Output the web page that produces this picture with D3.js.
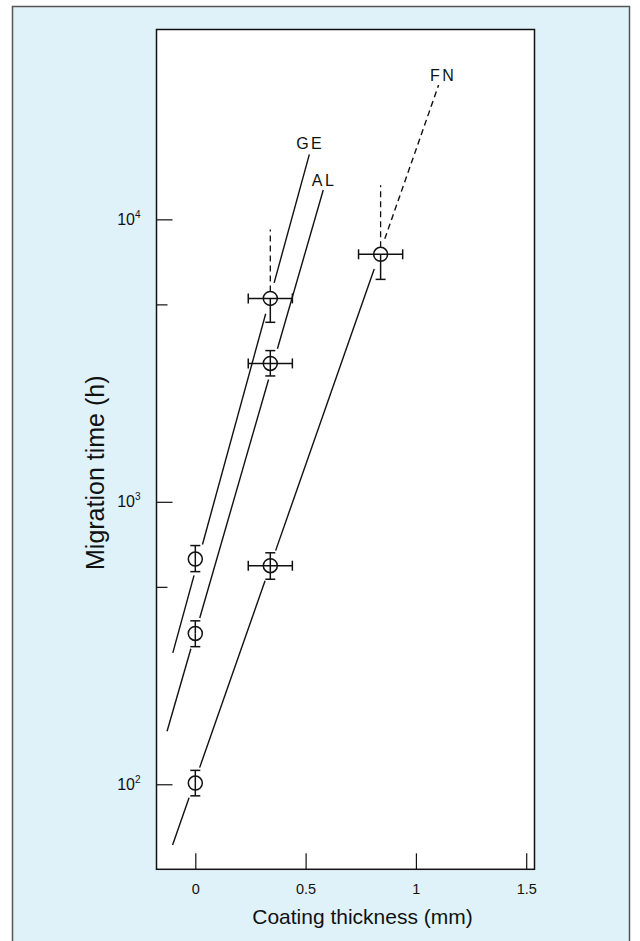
<!DOCTYPE html>
<html>
<head>
<meta charset="utf-8">
<script src="https://cdn.jsdelivr.net/npm/d3@7"></script>
<style>
    body { margin: 0; background: #fff; }
    svg text { font-family: "Liberation Sans", Arial, Helvetica, sans-serif; fill: #111; }
</style>
</head>
<body>
<div id="chart"></div>
<script>
// measured points (thickness in mm, migration time in h)
const geThickness = [0, 0.34];
const geTime = [627, 5250];
const geLow = [566, 4320];
const geHigh = [700, 9200];
const geOpen = [false, true];
const geXErr = [0, 0.1];

const alThickness = [0, 0.34];
const alTime = [342, 3090];
const alLow = [307, 2790];
const alHigh = [379, 3430];
const alOpen = [false, false];
const alXErr = [0, 0.1];

const fnThickness = [0, 0.34, 0.84];
const fnTime = [101, 594, 7520];
const fnLow = [91, 532, 6130];
const fnHigh = [112, 660, 13200];
const fnOpen = [false, false, true];
const fnXErr = [0, 0.1, 0.1];

// fitted lines (vertices); FN turns dashed after the 0.84 mm point
const geLineX = [-0.102, 0.517];
const geLineY = [292, 16990];
const alLineX = [-0.128, 0.580];
const alLineY = [154, 12700];
const fnLineX = [-0.103, 0.84, 1.103];
const fnLineY = [61, 7740, 29900];

const seriesNames = ["GE", "AL", "FN"];
const labelX = [0.514, 0.577, 1.117];
const labelY = [18600, 13800, 32400];

const xTicks = [0, 0.5, 1, 1.5];
const yMajor = [100, 1000, 10000];
const yMinor = [500, 5000];

const width = 640, height = 941;
const plot = {left: 156.5, right: 534.5, top: 29.5, bottom: 869.3};

const svg = d3.select("#chart").append("svg")
    .attr("width", width)
    .attr("height", height);

// light blue panel
svg.append("rect")
    .attr("x", 12.5).attr("y", 6.5)
    .attr("width", 617).attr("height", 960)
    .attr("fill", "#dff2fa")
    .attr("stroke", "#555")
    .attr("stroke-width", 1.5);

svg.append("rect")
    .attr("x", plot.left).attr("y", plot.top)
    .attr("width", plot.right - plot.left)
    .attr("height", plot.bottom - plot.top)
    .attr("fill", "#fff");

const x = d3.scaleLinear()
    .domain([-0.1759, 1.5376])
    .range([plot.left, plot.right]);

const y = d3.scaleLog()
    .domain([50, 47000])
    .range([plot.bottom, plot.top]);

// axes, ticks pointing inwards
const xAxisG = svg.append("g")
    .attr("transform", "translate(0," + plot.bottom + ")")
    .call(d3.axisBottom(x).tickValues(xTicks).tickSize(-16).tickPadding(14)
        .tickFormat(d => d === 0 ? "0" : d3.format("~g")(d)));
xAxisG.select(".domain").remove();
xAxisG.selectAll("line").attr("stroke", "#111").attr("stroke-width", 1.2);
xAxisG.selectAll("text").attr("font-size", 14.5).attr("fill", "#111");

const yAxisG = svg.append("g")
    .attr("transform", "translate(" + plot.left + ",0)")
    .call(d3.axisLeft(y).tickValues(yMajor).tickSize(-16).tickPadding(16));
yAxisG.select(".domain").remove();
yAxisG.selectAll("line").attr("stroke", "#111").attr("stroke-width", 1.2);
yAxisG.selectAll("text")
    .attr("font-size", 16)
    .attr("fill", "#111")
    .each(function(d) {
        let t = d3.select(this).text(null);
        t.append("tspan").text("10");
        t.append("tspan")
            .attr("font-size", 10)
            .attr("dy", "-0.7em")
            .text(Math.round(Math.log10(d)));
    });

const yMinorG = svg.append("g")
    .attr("transform", "translate(" + plot.left + ",0)")
    .call(d3.axisLeft(y).tickValues(yMinor).tickSize(-11).tickFormat(""));
yMinorG.select(".domain").remove();
yMinorG.selectAll("line").attr("stroke", "#111").attr("stroke-width", 1.2);

// frame
svg.append("rect")
    .attr("x", plot.left).attr("y", plot.top)
    .attr("width", plot.right - plot.left)
    .attr("height", plot.bottom - plot.top)
    .attr("fill", "none")
    .attr("stroke", "#111")
    .attr("stroke-width", 1.5);

svg.append("text")
    .attr("x", 362.5).attr("y", 924)
    .attr("text-anchor", "middle")
    .attr("font-size", 21)
    .text("Coating thickness (mm)");

svg.append("text")
    .attr("transform", "translate(104,570) rotate(-90)")
    .attr("text-anchor", "start")
    .attr("font-size", 25)
    .text("Migration time (h)");

const series = [
    {xs: geThickness, ts: geTime, lo: geLow, hi: geHigh, open: geOpen, xe: geXErr, lx: geLineX, ly: geLineY, dashFrom: 99},
    {xs: alThickness, ts: alTime, lo: alLow, hi: alHigh, open: alOpen, xe: alXErr, lx: alLineX, ly: alLineY, dashFrom: 99},
    {xs: fnThickness, ts: fnTime, lo: fnLow, hi: fnHigh, open: fnOpen, xe: fnXErr, lx: fnLineX, ly: fnLineY, dashFrom: 1}
];

const gap = 16;
const lineG = svg.append("g");

// fit line broken around its own markers
series.forEach(s => {
    let markers = s.xs.map((d, i) => [x(d), y(s.ts[i])]);
    for (let i = 0; i < s.lx.length - 1; i++) {
        let p0 = [x(s.lx[i]), y(s.ly[i])];
        let p1 = [x(s.lx[i + 1]), y(s.ly[i + 1])];
        let dx = p1[0] - p0[0], dy = p1[1] - p0[1];
        let L = Math.hypot(dx, dy);
        let u = [dx / L, dy / L];
        let cuts = [];
        markers.forEach(m => {
            let t = (m[0] - p0[0]) * u[0] + (m[1] - p0[1]) * u[1];
            let perp = Math.abs((m[0] - p0[0]) * u[1] - (m[1] - p0[1]) * u[0]);
            if (perp < 12 && t > -gap && t < L + gap) cuts.push([t - gap, t + gap]);
        });
        cuts.sort((a, b) => a[0] - b[0]);
        let pieces = [], start = 0;
        cuts.forEach(c => {
            if (c[0] > start) pieces.push([start, Math.min(c[0], L)]);
            start = Math.max(start, c[1]);
        });
        if (start < L) pieces.push([start, L]);
        pieces.forEach(p => {
            lineG.append("line")
                .attr("x1", p0[0] + u[0] * p[0]).attr("y1", p0[1] + u[1] * p[0])
                .attr("x2", p0[0] + u[0] * p[1]).attr("y2", p0[1] + u[1] * p[1])
                .attr("stroke", "#111")
                .attr("stroke-width", 1.4)
                .attr("stroke-dasharray", i >= s.dashFrom ? "6,4" : null);
        });
    }
});

// markers
const cap = 5, r = 7;
const markG = svg.append("g");
series.forEach(s => {
    s.xs.forEach((d, i) => {
        let cx = x(d), cy = y(s.ts[i]);
        markG.append("circle")
            .attr("cx", cx).attr("cy", cy).attr("r", r)
            .attr("fill", "#fff")
            .attr("stroke", "#111")
            .attr("stroke-width", 1.5);
        let g = markG.append("g").attr("stroke", "#111").attr("stroke-width", 1.5);
        if (s.xe[i] > 0) {
            let xa = x(d - s.xe[i]), xb = x(d + s.xe[i]);
            g.append("line").attr("x1", xa).attr("x2", xb).attr("y1", cy).attr("y2", cy);
            g.append("line").attr("x1", xa).attr("x2", xa).attr("y1", cy - cap).attr("y2", cy + cap);
            g.append("line").attr("x1", xb).attr("x2", xb).attr("y1", cy - cap).attr("y2", cy + cap);
        }
        let yl = y(s.lo[i]), yh = y(s.hi[i]);
        g.append("line").attr("x1", cx).attr("x2", cx).attr("y1", cy).attr("y2", yl);
        g.append("line").attr("x1", cx - cap).attr("x2", cx + cap).attr("y1", yl).attr("y2", yl);
        if (s.open[i]) {
            g.append("line").attr("x1", cx).attr("x2", cx).attr("y1", cy - r).attr("y2", yh)
                .attr("stroke-width", 1.3)
                .attr("stroke-dasharray", "6,4");
        } else {
            g.append("line").attr("x1", cx).attr("x2", cx).attr("y1", cy).attr("y2", yh);
            g.append("line").attr("x1", cx - cap).attr("x2", cx + cap).attr("y1", yh).attr("y2", yh);
        }
    });
});

// series labels
svg.selectAll(".seriesLabel")
    .data(seriesNames)
    .enter()
    .append("text")
    .attr("class", "seriesLabel")
    .attr("x", (d, i) => x(labelX[i]) + 1.5)
    .attr("y", (d, i) => y(labelY[i]) + 6)
    .attr("text-anchor", "middle")
    .attr("font-size", 16)
    .attr("letter-spacing", 2.5)
    .text(d => d);
</script>
</body>
</html>
